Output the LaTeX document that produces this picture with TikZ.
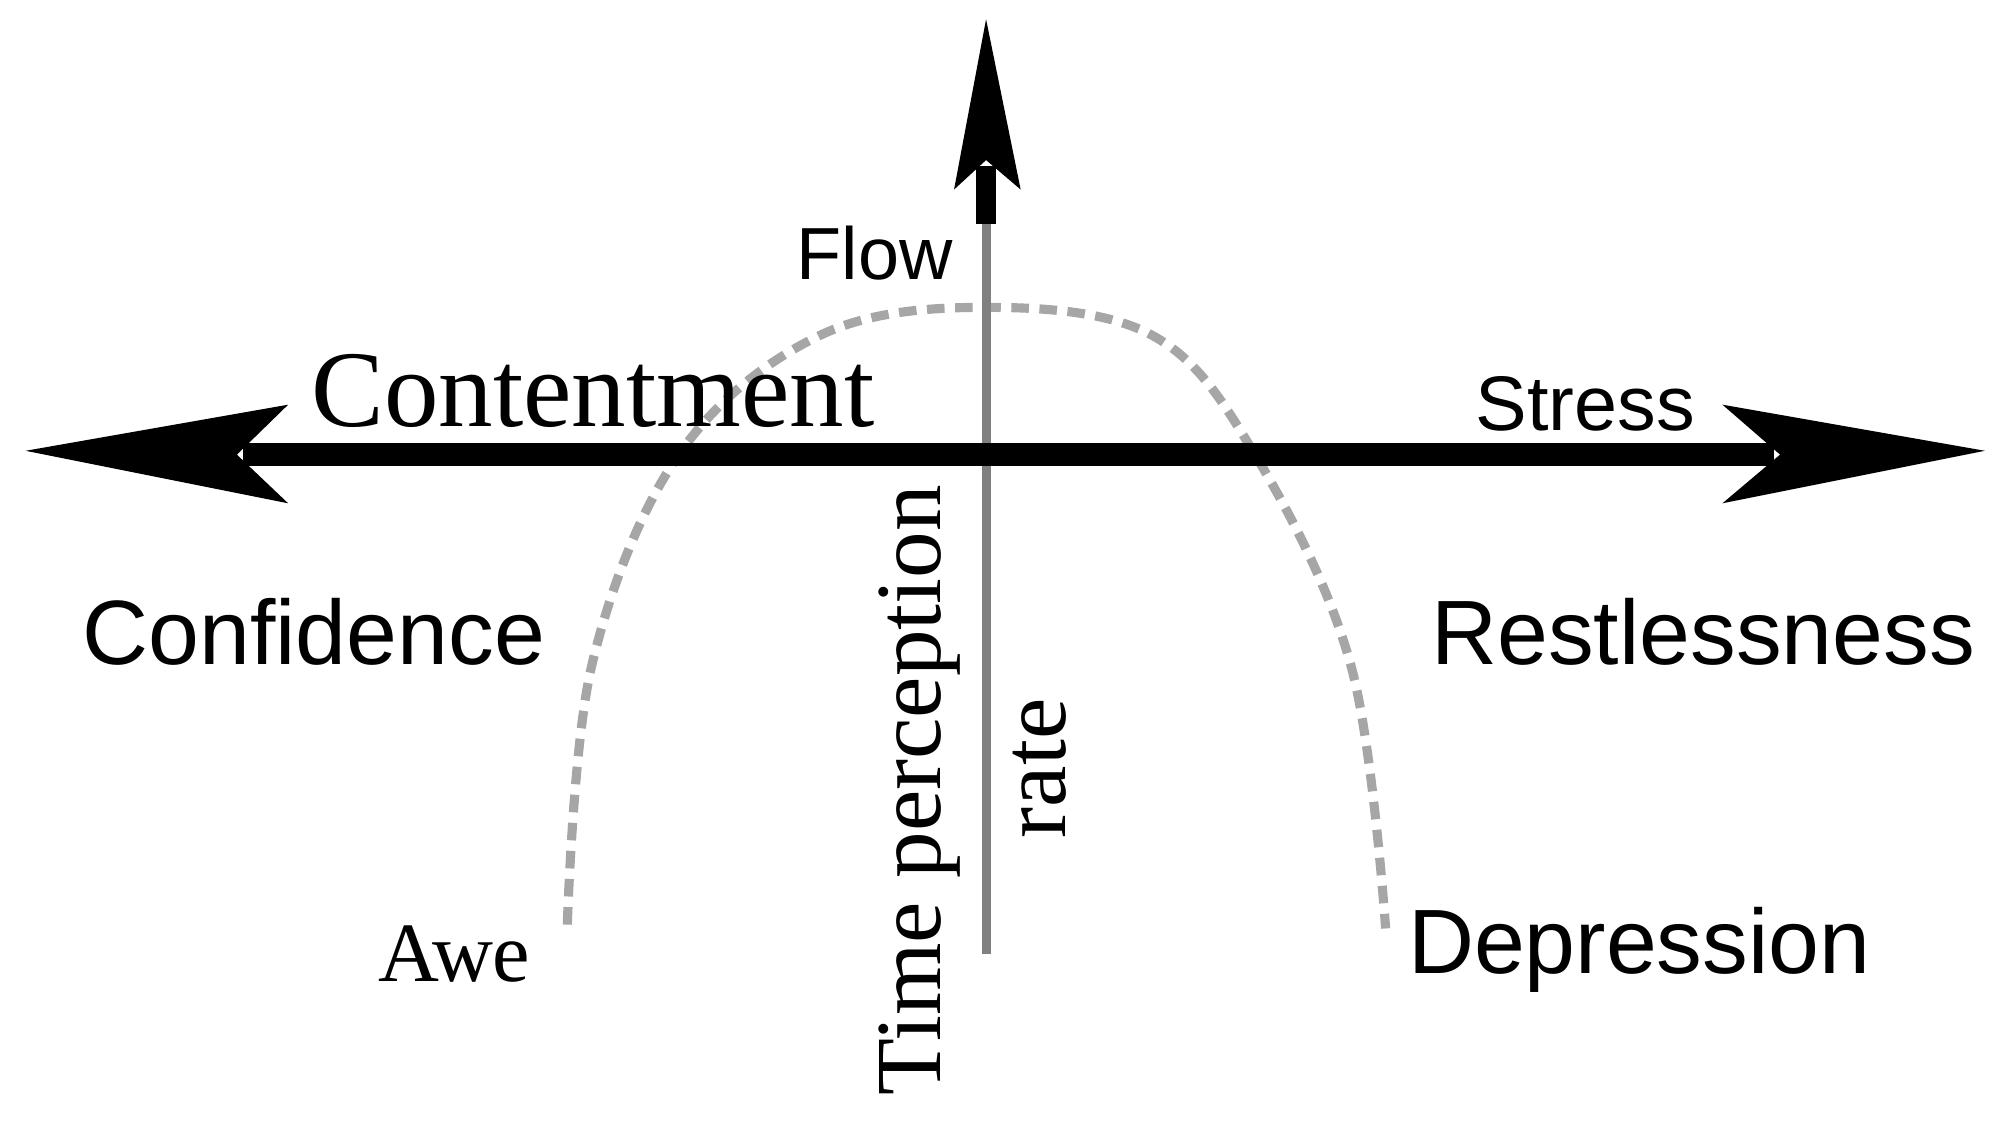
\documentclass[tikz,border=0pt]{standalone}
\usepackage{fontspec}
\setmainfont{Liberation Serif}
\newfontfamily\sansfam{Liberation Sans}
\usepackage{tikz}
\tikzset{
  sanslab/.style={font=\sansfam\fontsize{#1}{#1}\selectfont, inner sep=0pt},
  seriflab/.style={font=\fontsize{#1}{#1}\selectfont, inner sep=0pt},
  curve/.style={gray!70, line width=2.6pt, dash pattern=on 5pt off 3pt}
}
\begin{document}
\begin{tikzpicture}[x=0.0128cm, y=-0.0128cm]
        \useasboundingbox (0,0) rectangle (1568,877);
        % Coordinates
        \coordinate (L) at (190,355);
        \coordinate (R) at (1385,355);
        \coordinate (T) at (770,175);
        \coordinate (B) at (770,745);
        % Dashed curve
        \draw[curve] plot[smooth, tension=0.6] coordinates
          {(443,722) (462,520) (530,355) (640,262) (770,240) (900,262) (980,355) (1055,520) (1082,725)};
        % Vertical axis
        \draw[gray, line width=2.6pt] (T) -- (B);
        \draw[line width=5.5pt] (T) -- (770,130);
        \fill (770,15) -- (797,148) -- (770,125) -- (745,148) -- cycle;
        % Horizontal axis
        \draw[line width=6.5pt] (L) -- (R);
        \fill (20,352) -- (225,316) -- (185,355) -- (225,393) -- cycle;
        \fill (1550,352) -- (1345,316) -- (1390,355) -- (1345,393) -- cycle;
        % Labels
        \node[sanslab=21pt] (flow) at (683,198) {Flow};
        \node[seriflab=31pt] (cont) at (463,305) {Contentment};
        \node[sanslab=22pt] (stress) at (1238,315) {Stress};
        \node[sanslab=26pt] (conf) at (245,493) {Confidence};
        \node[sanslab=26pt] (rest) at (1330,493) {Restlessness};
        \node[seriflab=24pt] (awe) at (355,745) {Awe};
        \node[sanslab=26pt] (dep) at (1280,742) {Depression};
        \node[seriflab=26.5pt, rotate=90] (time) at (718,617) {Time perception};
        \node[seriflab=26.5pt, rotate=90] (rate) at (812,600) {rate};
\end{tikzpicture}
\end{document}
